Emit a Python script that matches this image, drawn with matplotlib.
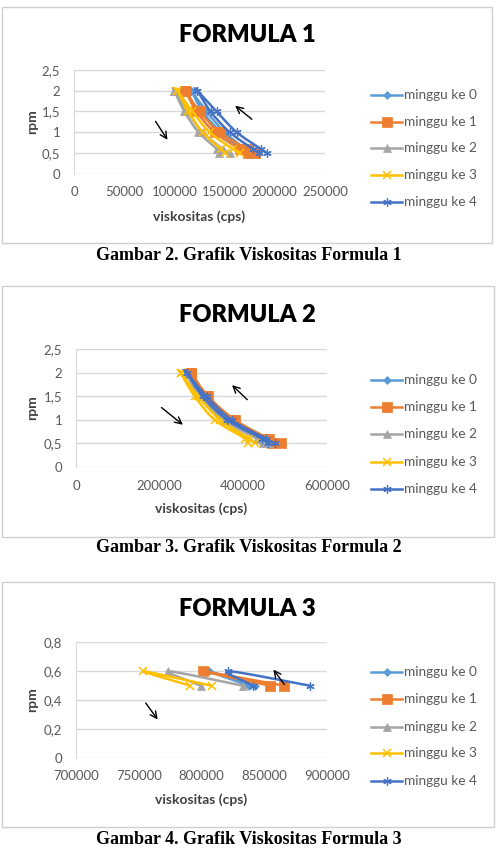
import matplotlib
matplotlib.use("Agg")
import matplotlib.pyplot as plt
import numpy as np
from matplotlib.patches import Rectangle, PathPatch
from matplotlib.path import Path
from matplotlib.lines import Line2D
from matplotlib.transforms import IdentityTransform

plt.rcParams['font.family'] = ['Lato', 'DejaVu Sans']

W, H = 503, 850

# ---------------- data ----------------
series_names = ["minggu ke 0", "minggu ke 1", "minggu ke 2", "minggu ke 3", "minggu ke 4"]

# Formula 1 & 2: rpm going up then down (hysteresis loop)
rpm_loop = [0.5, 0.6, 1, 1.5, 2, 2, 1.5, 1, 0.6, 0.5]
f1_m0 = [175000, 170000, 150000, 132000, 117000, 117000, 128000, 146000, 165000, 170000]
f1_m1 = [180000, 172000, 145000, 125000, 111000, 111000, 122000, 140000, 165000, 173000]
f1_m2 = [155000, 148000, 128000, 113000, 100000, 100000, 110000, 124000, 142000, 144000]
f1_m3 = [165000, 158000, 135000, 118000, 103000, 103000, 114000, 128000, 146000, 150000]
f1_m4 = [192000, 186000, 162000, 142000, 123000, 123000, 136000, 155000, 178000, 184000]

f2_m0 = [470000, 450000, 370000, 310000, 268000, 268000, 305000, 360000, 440000, 455000]
f2_m1 = [490000, 462000, 380000, 316000, 275000, 275000, 312000, 372000, 450000, 468000]
f2_m2 = [460000, 445000, 362000, 300000, 262000, 262000, 296000, 352000, 432000, 448000]
f2_m3 = [428000, 415000, 345000, 292000, 250000, 250000, 284000, 332000, 405000, 412000]
f2_m4 = [476000, 455000, 372000, 312000, 265000, 265000, 303000, 362000, 445000, 460000]

# Formula 3
rpm_f3 = [0.5, 0.6, 0.5]
f3_m0 = [843000, 806000, 838000]
f3_m1 = [866000, 801000, 855000]
f3_m2 = [833000, 773500, 799500]
f3_m3 = [808000, 753500, 791000]
f3_m4 = [886500, 821500, 841500]

f1_xticks = [0, 50000, 100000, 150000, 200000, 250000]
f1_yticks = [0, 0.5, 1, 1.5, 2, 2.5]
f1_ylabels = ["0", "0,5", "1", "1,5", "2", "2,5"]
f2_xticks = [0, 200000, 400000, 600000]
f2_yticks = [0, 0.5, 1, 1.5, 2, 2.5]
f2_ylabels = ["0", "0,5", "1", "1,5", "2", "2,5"]
f3_xticks = [700000, 750000, 800000, 850000, 900000]
f3_yticks = [0, 0.2, 0.4, 0.6, 0.8]
f3_ylabels = ["0", "0,2", "0,4", "0,6", "0,8"]

titles = ["FORMULA 1", "FORMULA 2", "FORMULA 3"]
captions = ["Gambar 2. Grafik Viskositas Formula 1",
            "Gambar 3. Grafik Viskositas Formula 2",
            "Gambar 4. Grafik Viskositas Formula 3"]

colors = ["#5B9BD5", "#ED7D31", "#A5A5A5", "#FFC000", "#4472C4"]
markers = ["D", "s", "^", "x", (6, 2, 0)]
msizes = [4, 7, 6, 6, 6]
medges = [0.5, 0.5, 0.5, 1.1, 0.9]

# ---------------- layout (pixels) ----------------
charts = [
    dict(box=(2, 7, 492, 243), ax=(74, 70, 325, 173.7), title_y=35, xt_y=217, yl_y=122,
         leg_y=[95, 121.5, 148, 175, 202], cap_y=255,
         xs=[f1_m0, f1_m1, f1_m2, f1_m3, f1_m4], ys=rpm_loop,
         xticks=f1_xticks, yticks=f1_yticks, ylabels=f1_ylabels,
         xlim=(0, 250000), ylim=(0, 2.5),
         arrows=[((79700, 1.32), (94600, 0.76)), ((179300, 1.27), (158400, 1.68))]),
    dict(box=(2, 286, 494, 537), ax=(76.3, 349.3, 326.7, 467), title_y=315, xt_y=509, yl_y=408,
         leg_y=[380, 407, 434, 462, 489], cap_y=548,
         xs=[f2_m0, f2_m1, f2_m2, f2_m3, f2_m4], ys=rpm_loop,
         xticks=f2_xticks, yticks=f2_yticks, ylabels=f2_ylabels,
         xlim=(0, 600000), ylim=(0, 2.5),
         arrows=[((198900, 1.30), (260500, 0.86)), ((414500, 1.39), (368300, 1.78))]),
    dict(box=(2, 582, 494, 827), ax=(76.3, 642.3, 326.7, 758), title_y=609, xt_y=800, yl_y=700,
         leg_y=[672, 699, 727, 753, 781], cap_y=840,
         xs=[f3_m0, f3_m1, f3_m2, f3_m3, f3_m4], ys=rpm_f3,
         xticks=f3_xticks, yticks=f3_yticks, ylabels=f3_ylabels,
         xlim=(700000, 900000), ylim=(0, 0.8),
         arrows=[((754100, 0.396), (766300, 0.251)), ((867500, 0.493), (856100, 0.627))]),
]

fig = plt.figure(figsize=(W / 100, H / 100), dpi=100)
fig.patch.set_facecolor("white")


def fx(px):
    return px / W


def fy(py):
    return 1 - py / H


def smooth_path(ax, xs, ys):
    """Excel-like smoothed line through the data points (Bezier, tension 1/6)."""
    pts = ax.transData.transform(np.column_stack([xs, ys]))
    n = len(pts)
    verts = [pts[0]]
    codes = [Path.MOVETO]
    for i in range(n - 1):
        p0 = pts[i - 1] if i > 0 else pts[i]
        p1 = pts[i]
        p2 = pts[i + 1]
        p3 = pts[i + 2] if i + 2 < n else pts[i + 1]
        c1 = p1 + (p2 - p0) / 6.0
        c2 = p2 - (p3 - p1) / 6.0
        verts += [c1, c2, p2]
        codes += [Path.CURVE4] * 3
    return Path(verts, codes)


tick_color = "#595959"
grid_color = "#D9D9D9"

for i, c in enumerate(charts):
    x0, y0, x1, y1 = c["box"]
    fig.patches.append(Rectangle((fx(x0), fy(y1)), fx(x1) - fx(x0), fy(y0) - fy(y1),
                                 transform=fig.transFigure, fill=False,
                                 edgecolor="#D0D0D0", linewidth=1.0))
    ax0, ay0, ax1, ay1 = c["ax"]
    ax = fig.add_axes([fx(ax0), fy(ay1), fx(ax1) - fx(ax0), fy(ay0) - fy(ay1)])
    ax.set_xlim(*c["xlim"])
    ax.set_ylim(*c["ylim"])
    ax.set_xticks(c["xticks"])
    ax.set_xticklabels([str(v) for v in c["xticks"]])
    ax.set_yticks(c["yticks"])
    ax.set_yticklabels(c["ylabels"])
    ax.tick_params(length=0, labelsize=9.5, colors=tick_color, pad=9)
    ax.tick_params(axis='y', pad=10)
    for s in ["top", "right", "bottom"]:
        ax.spines[s].set_visible(False)
    ax.spines["left"].set_color(grid_color)
    ax.grid(axis="y", color=grid_color, linewidth=1.0)
    ax.set_axisbelow(True)

    for k in range(5):
        path = smooth_path(ax, c["xs"][k], c["ys"])
        patch = PathPatch(path, transform=IdentityTransform(), fill=False,
                          edgecolor=colors[k], linewidth=1.8, zorder=2 + k * 0.1)
        ax.add_artist(patch)
        ax.plot(c["xs"][k], c["ys"], color=colors[k], marker=markers[k],
                markersize=msizes[k], linestyle="none", clip_on=False,
                markeredgewidth=medges[k], zorder=2.05 + k * 0.1)

    for (xa, ya), (xb, yb) in c["arrows"]:
        ax.annotate("", xy=(xb, yb), xytext=(xa, ya),
                    arrowprops=dict(arrowstyle="->", color="black", lw=1.0,
                                    mutation_scale=12))

    # title
    fig.text(fx(247), fy(c["title_y"]), titles[i], ha="center", va="center",
             fontsize=17, fontweight="heavy", color="black")
    # axis titles
    fig.text(fx((ax0 + ax1) / 2), fy(c["xt_y"]), "viskositas (cps)", ha="center",
             va="center", fontsize=10, fontweight="bold", color="#404040")
    fig.text(fx(32), fy(c["yl_y"]), "rpm", ha="center", va="center", rotation=90,
             fontsize=10, fontweight="bold", color="#404040")

    # legend
    for k in range(5):
        ly = fy(c["leg_y"][k])
        fig.lines.append(Line2D([fx(371), fx(402)], [ly, ly], transform=fig.transFigure,
                                color=colors[k], linewidth=1.8))
        fig.lines.append(Line2D([fx(386.5)], [ly], transform=fig.transFigure,
                                color=colors[k], linestyle="none",
                                marker=markers[k], markersize=msizes[k],
                                markeredgewidth=medges[k]))
        fig.text(fx(404), ly, series_names[k], ha="left", va="center",
                 fontsize=9.8, color=tick_color)

    # caption
    fig.text(fx(249), fy(c["cap_y"]), captions[i], ha="center", va="center",
             fontsize=13, fontweight="bold", family=["Liberation Serif", "DejaVu Serif"],
             color="black")

fig.savefig("out.png", dpi=100, facecolor="white")
